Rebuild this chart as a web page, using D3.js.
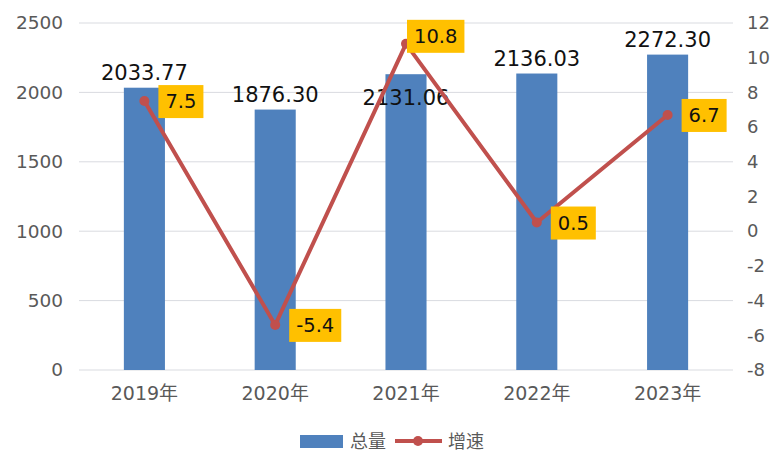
<!DOCTYPE html>
<html>
<head>
<meta charset="utf-8">
<script src="https://cdn.jsdelivr.net/npm/d3@7"></script>
<style>
  body { margin: 0; background: #fff; }
  text { font-family: "DejaVu Sans", "Noto Sans CJK SC", sans-serif; }
</style>
</head>
<body>
<svg width="774" height="452"></svg>
<script>
// data
const years = ["2019年", "2020年", "2021年", "2022年", "2023年"];
const totals = [2033.77, 1876.30, 2131.06, 2136.03, 2272.30];
const growth = [7.5, -5.4, 10.8, 0.5, 6.7];
const leftTicks = [0, 500, 1000, 1500, 2000, 2500];
const rightTicks = [-8, -6, -4, -2, 0, 2, 4, 6, 8, 10, 12];
const seriesNames = ["总量", "增速"];

let svg = d3.select('svg');

const plotLeft = 79, plotRight = 733, plotTop = 23, plotBottom = 370;

// scales
let xScale = d3.scaleBand().domain(years).range([plotLeft, plotRight]).paddingInner(0.686).paddingOuter(0.343);
let xPoint = d => xScale(d) + xScale.bandwidth() / 2;
let yLeft = d3.scaleLinear().domain([0, 2500]).range([plotBottom, plotTop]);
let yRight = d3.scaleLinear().domain([-8, 12]).range([plotBottom, plotTop]);

// gridlines
svg.append('g').selectAll('line')
  .data(leftTicks)
  .join('line')
  .attr('x1', plotLeft).attr('x2', plotRight)
  .attr('y1', d => yLeft(d)).attr('y2', d => yLeft(d))
  .attr('stroke', '#d9dbe0').attr('stroke-width', 1);

// left axis
let gl = svg.append('g')
  .attr('transform', `translate(${plotLeft},0)`)
  .call(d3.axisLeft(yLeft).tickValues(leftTicks).tickFormat(d => String(d)).tickSize(0).tickPadding(16));
gl.select('.domain').remove();
gl.selectAll('text').attr('font-size', 18.5).attr('fill', '#595959');

// right axis
let gr = svg.append('g')
  .attr('transform', `translate(${plotRight},0)`)
  .call(d3.axisRight(yRight).tickValues(rightTicks).tickFormat(d => String(d)).tickSize(0).tickPadding(14));
gr.select('.domain').remove();
gr.selectAll('text').attr('font-size', 18).attr('fill', '#595959');

// bottom axis
let gb = svg.append('g')
  .attr('transform', `translate(0,${plotBottom})`)
  .call(d3.axisBottom(xScale).tickSize(0).tickPadding(17));
gb.select('.domain').remove();
gb.selectAll('text').attr('font-size', 19).attr('fill', '#595959');

// bars
svg.append('g').selectAll('rect')
  .data(totals)
  .join('rect')
  .attr('x', (d, i) => xScale(years[i]))
  .attr('width', xScale.bandwidth())
  .attr('y', d => yLeft(d))
  .attr('height', d => plotBottom - yLeft(d))
  .attr('fill', '#4f81bd');

// bar labels (2021 one sits inside the bar as in the original)
svg.append('g').selectAll('text')
  .data(totals)
  .join('text')
  .attr('x', (d, i) => xPoint(years[i]))
  .attr('y', (d, i) => i == 2 ? yLeft(d) + 31 : yLeft(d) - 8)
  .attr('text-anchor', 'middle')
  .attr('font-size', 21)
  .attr('fill', '#111')
  .text(d => d.toFixed(2));

// growth line
let line = d3.line()
  .x((d, i) => xPoint(years[i]))
  .y(d => yRight(d));
svg.append('path')
  .datum(growth)
  .attr('d', line)
  .attr('fill', 'none')
  .attr('stroke', '#c0504d')
  .attr('stroke-width', 4)
  .attr('stroke-linejoin', 'round');
svg.append('g').selectAll('circle')
  .data(growth)
  .join('circle')
  .attr('cx', (d, i) => xPoint(years[i]))
  .attr('cy', d => yRight(d))
  .attr('r', 5)
  .attr('fill', '#c0504d');

// growth labels with yellow boxes
let lg = svg.append('g').selectAll('g')
  .data(growth)
  .join('g')
  .attr('transform', (d, i) => {
    let dx = i == 2 ? 1 : 14;
    let dy = i == 2 ? -8 : 0;
    return `translate(${xPoint(years[i]) + dx},${yRight(d) + dy})`;
  });
lg.append('text')
  .attr('x', 7)
  .attr('y', 7)
  .attr('font-size', 19.5)
  .attr('fill', '#111')
  .text(d => d.toFixed(1));
lg.each(function () {
  let g = d3.select(this);
  let w = g.select('text').node().getComputedTextLength();
  g.insert('rect', 'text')
    .attr('x', 0).attr('y', -16)
    .attr('width', w + 14).attr('height', 33)
    .attr('fill', '#ffc000');
});

// legend
let leg = svg.append('g');
leg.append('rect').attr('x', 300).attr('y', 435).attr('width', 43).attr('height', 13).attr('fill', '#4f81bd');
leg.append('text').attr('x', 350).attr('y', 448).attr('font-size', 18).attr('fill', '#595959').text(seriesNames[0]);
leg.append('line').attr('x1', 395).attr('x2', 442).attr('y1', 441).attr('y2', 441)
  .attr('stroke', '#c0504d').attr('stroke-width', 4);
leg.append('circle').attr('cx', 418).attr('cy', 441).attr('r', 5).attr('fill', '#c0504d');
leg.append('text').attr('x', 448).attr('y', 448).attr('font-size', 18).attr('fill', '#595959').text(seriesNames[1]);
</script>
</body>
</html>
